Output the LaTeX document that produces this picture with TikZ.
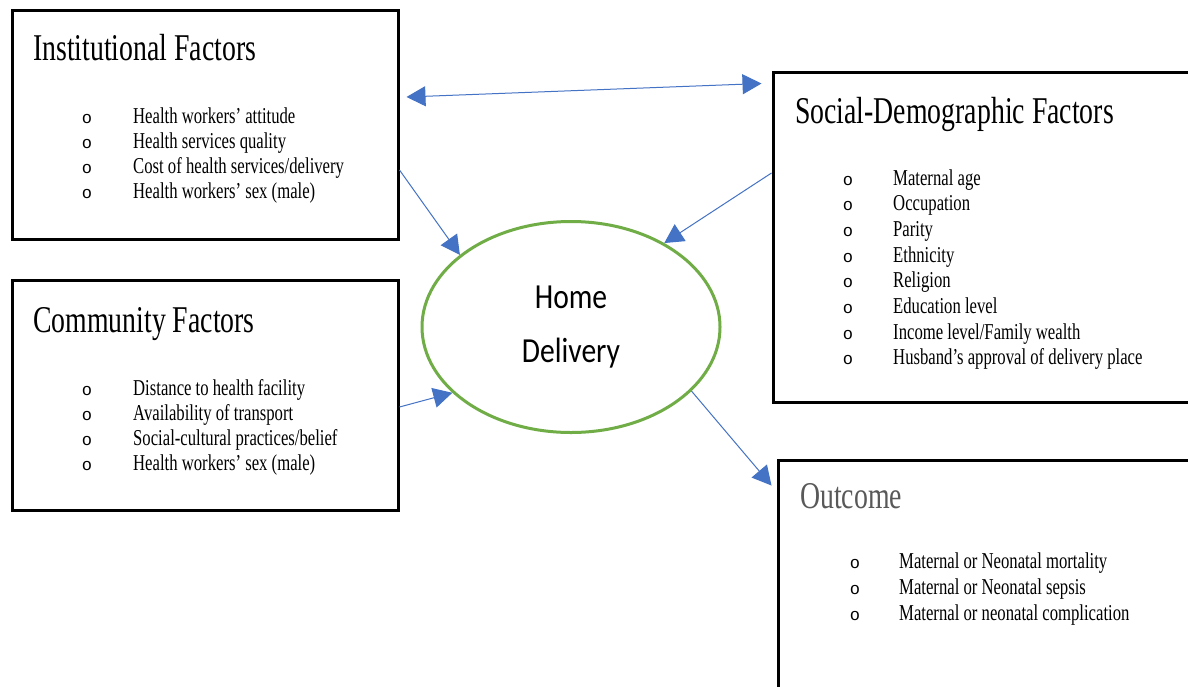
\documentclass[tikz,border=0pt]{standalone}
\usepackage{fontspec}
\setmainfont{Liberation Serif}[FakeStretch=0.735]
\newfontfamily\ringfont{Liberation Mono}
\newfontfamily\ovalfont{Carlito}[FakeStretch=0.84]
\usetikzlibrary{shapes.geometric, arrows.meta}

\definecolor{linkblue}{HTML}{4472C4}
\definecolor{ovalgreen}{HTML}{70AD47}
\definecolor{titlegrey}{HTML}{595959}

\begin{document}
\begin{tikzpicture}[
  x=1pt, y=-1pt,
  factor/.style={draw, line width=3pt, inner sep=0pt},
  heading/.style={anchor=base west, inner sep=0pt, font=\fontsize{37.8}{40}\selectfont},
  entry/.style={anchor=base west, inner sep=0pt, font=\fontsize{22.7}{24}\selectfont},
  ring/.style={anchor=base, inner sep=0pt, font=\ringfont\fontsize{17}{17}\selectfont},
  link/.style={draw=linkblue, line width=1pt, -{Triangle[length=19pt, width=20pt]}}
]
  \useasboundingbox (0,0) rectangle (1188,686);
  \fill[white] (0,0) rectangle (1188,686);

  \node[factor, minimum width=386pt, minimum height=229pt] (inst) at (205,125) {};
  \node[factor, minimum width=386pt, minimum height=230pt] (comm) at (205,395) {};
  \node[factor, minimum width=434pt, minimum height=330pt] (soc) at (990,237) {};
  \node[factor, minimum width=444pt, minimum height=240pt] (outc) at (1000,580) {};

  \node[heading] (inst-title) at (33,60) {Institutional Factors};
  \node[heading] (comm-title) at (33,332) {Community Factors};
  \node[heading] (soc-title) at (795,123) {Social-Demographic Factors};
  \node[heading, text=titlegrey] (outc-title) at (800,508) {Outcome};

  \foreach \entrytext [count=\i] in {Health workers’ attitude, Health services quality,
    Cost of health services/delivery, Health workers’ sex (male)} {
    \node[ring] (inst-r\i) at (87, {123+25.3*(\i-1)}) {o};
    \node[entry] (inst-e\i) at (133, {123+25.3*(\i-1)}) {\entrytext};
  }
  \foreach \entrytext [count=\i] in {Distance to health facility, Availability of transport,
    Social-cultural practices/belief, Health workers’ sex (male)} {
    \node[ring] (comm-r\i) at (87, {395+25*(\i-1)}) {o};
    \node[entry] (comm-e\i) at (133, {395+25*(\i-1)}) {\entrytext};
  }
  \foreach \entrytext [count=\i] in {Maternal age, Occupation, Parity, Ethnicity, Religion,
    Education level, Income level/Family wealth, Husband’s approval of delivery place} {
    \node[ring] (soc-r\i) at (848, {185+25.7*(\i-1)}) {o};
    \node[entry] (soc-e\i) at (893, {185+25.7*(\i-1)}) {\entrytext};
  }
  \foreach \entrytext [count=\i] in {Maternal or Neonatal mortality, Maternal or Neonatal sepsis,
    Maternal or neonatal complication} {
    \node[ring] (outc-r\i) at (855, {568+26*(\i-1)}) {o};
    \node[entry] (outc-e\i) at (899, {568+26*(\i-1)}) {\entrytext};
  }

  \node[ellipse, draw=ovalgreen, line width=3pt, minimum width=298pt, minimum height=211pt,
    align=center, font=\ovalfont\fontsize{35.2}{54}\selectfont] (home) at (571,327) {Home\\Delivery};

  \draw[link, {Triangle[length=19pt, width=20pt]}-{Triangle[length=19pt, width=20pt]}]
    ([xshift=7pt, yshift=28pt]inst.east) -- ([xshift=-10pt, yshift=-13pt]soc.north west);
  \draw[link] ([yshift=-45pt]inst.east) -- (home.147);
  \draw[link] ([yshift=64pt]soc.west) -- (home.42);
  \draw[link] ([yshift=-12pt]comm.east) -- (home.209);
  \draw[link] (home.-28) -- ([xshift=-5pt, yshift=-27pt]outc.north west);
\end{tikzpicture}
\end{document}
